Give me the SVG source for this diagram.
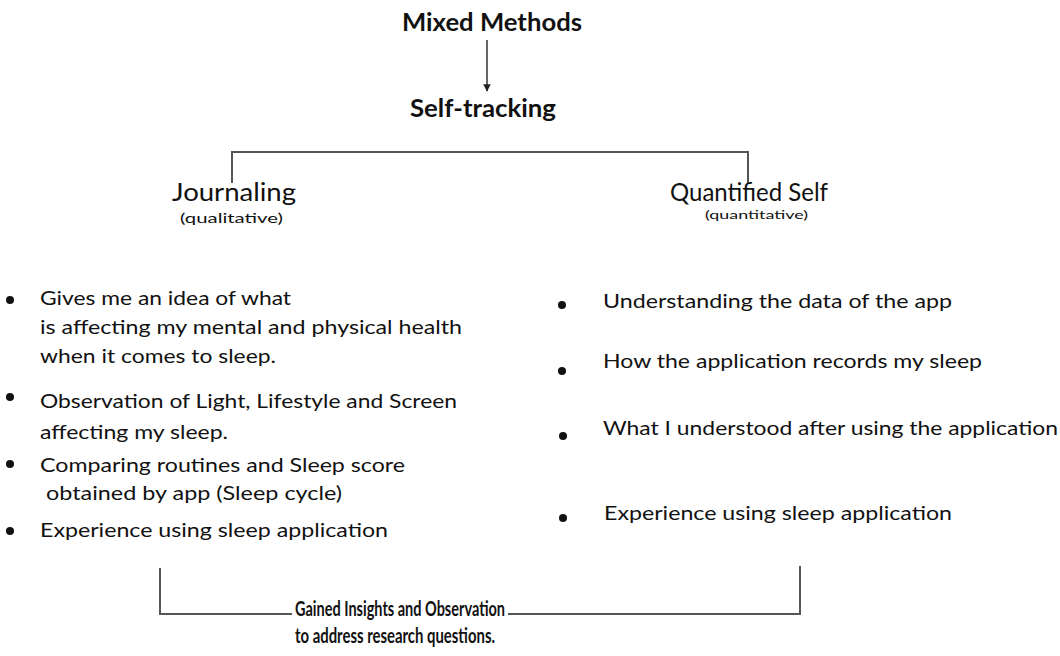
<svg xmlns="http://www.w3.org/2000/svg" width="1060" height="656" viewBox="0 0 1060 656">
<defs>
<style>
.t{font-family:Lato,"Open Sans","Liberation Sans",sans-serif;fill:#111}
.b{font-size:20px}
.h{font-weight:700;font-size:25px}
.ln{fill:none;stroke:#555;stroke-width:2}
.dot{fill:#111}
</style>
<marker id="ah" viewBox="0 0 10 10" refX="9" refY="5" markerWidth="5" markerHeight="5" orient="auto">
<path d="M0,0 L10,5 L0,10 z" fill="#222"/>
</marker>
</defs>
<rect width="1060" height="656" fill="#fff"/>
<g id="connectors">
<line x1="487" y1="40" x2="487" y2="91" marker-end="url(#ah)" style="stroke:#333;stroke-width:1.5"/>
<path class="ln" d="M232,183 V152 H748 V183"/>
<path class="ln" d="M160,568 V614 H292"/>
<path class="ln" d="M508,614 H800 V566"/>
</g>
<g id="mixed-methods"><text class="t h" x="402" y="31" textLength="180" lengthAdjust="spacingAndGlyphs">Mixed Methods</text></g>
<g id="self-tracking"><text class="t h" x="410" y="117" textLength="146" lengthAdjust="spacingAndGlyphs">Self-tracking</text></g>
<g id="journaling">
<text class="t" x="172" y="201" font-size="25" textLength="124" lengthAdjust="spacingAndGlyphs">Journaling</text>
<text class="t" x="180" y="223" font-size="14" textLength="103" lengthAdjust="spacingAndGlyphs">(qualitative)</text>
</g>
<g id="quantified-self">
<text class="t" x="670" y="201" font-size="25" textLength="158" lengthAdjust="spacingAndGlyphs">Quantified Self</text>
<text class="t" x="705" y="219" font-size="12" textLength="103" lengthAdjust="spacingAndGlyphs">(quantitative)</text>
</g>
<g id="journaling-items">
<circle class="dot" cx="10" cy="300" r="4"/>
<text class="t b" x="40" y="305" textLength="251" lengthAdjust="spacingAndGlyphs">Gives me an idea of what</text>
<text class="t b" x="40" y="334" textLength="422" lengthAdjust="spacingAndGlyphs">is affecting my mental and physical health</text>
<text class="t b" x="40" y="363" textLength="236" lengthAdjust="spacingAndGlyphs">when it comes to sleep.</text>
<circle class="dot" cx="10" cy="397" r="4"/>
<text class="t b" x="40" y="408" textLength="417" lengthAdjust="spacingAndGlyphs">Observation of Light, Lifestyle and Screen</text>
<text class="t b" x="40" y="439" textLength="188" lengthAdjust="spacingAndGlyphs">affecting my sleep.</text>
<circle class="dot" cx="10" cy="464" r="4"/>
<text class="t b" x="40" y="472" textLength="365" lengthAdjust="spacingAndGlyphs">Comparing routines and Sleep score</text>
<text class="t b" x="46" y="500" textLength="296" lengthAdjust="spacingAndGlyphs">obtained by app (Sleep cycle)</text>
<circle class="dot" cx="10" cy="531" r="4"/>
<text class="t b" x="40" y="537" textLength="348" lengthAdjust="spacingAndGlyphs">Experience using sleep application</text>
</g>
<g id="quantified-items">
<circle class="dot" cx="562" cy="305" r="4"/>
<text class="t b" x="603" y="308" textLength="349" lengthAdjust="spacingAndGlyphs">Understanding the data of the app</text>
<circle class="dot" cx="562" cy="371" r="4"/>
<text class="t b" x="603" y="368" textLength="379" lengthAdjust="spacingAndGlyphs">How the application records my sleep</text>
<circle class="dot" cx="563" cy="436" r="4"/>
<text class="t b" x="603" y="435" textLength="455" lengthAdjust="spacingAndGlyphs">What I understood after using the application</text>
<circle class="dot" cx="563" cy="518" r="4"/>
<text class="t b" x="604" y="520" textLength="348" lengthAdjust="spacingAndGlyphs">Experience using sleep application</text>
</g>
<g id="insights">
<text class="t" x="295" y="616" font-size="21" font-weight="700" textLength="210" lengthAdjust="spacingAndGlyphs">Gained Insights and Observation</text>
<text class="t" x="295" y="643" font-size="21" font-weight="700" textLength="200" lengthAdjust="spacingAndGlyphs">to address research questions.</text>
</g>
</svg>
